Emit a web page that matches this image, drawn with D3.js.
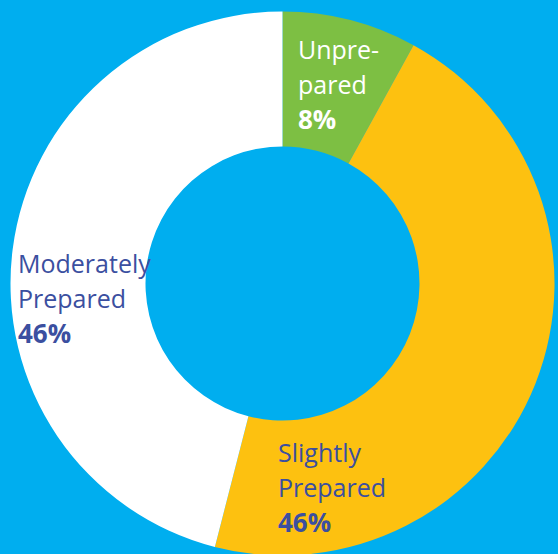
<!DOCTYPE html>
<html><head><meta charset="utf-8">
<script src="https://cdn.jsdelivr.net/npm/d3@7"></script>
<style>
html,body{margin:0;padding:0;background:#00AEEF;}
svg{display:block;}
</style></head>
<body>
<script>
const categories = ["Unprepared", "Slightly Prepared", "Moderately Prepared"];
const labelLines = [["Unpre-", "pared"], ["Slightly", "Prepared"], ["Moderately", "Prepared"]];
const values = [8, 46, 46];
const colors = ["#7DBF43", "#FDC110", "#FFFFFF"];
const labelColors = ["#FFFFFF", "#3B4FA0", "#3B4FA0"];

const W = 558, H = 554;
const cx = 282.5, cy = 283.5, rOuter = 272, rInner = 137;
// label anchors (left x, first baseline y), layout only
const labelPos = [[298, 59], [278, 462], [18, 273]];
const lineH = 35;

const svg = d3.select("body").append("svg").attr("width", W).attr("height", H);
svg.append("rect").attr("width", W).attr("height", H).attr("fill", "#00AEEF");

const pie = d3.pie().sort(null).value(d => d)(values);
const arc = d3.arc().innerRadius(rInner).outerRadius(rOuter);

const g = svg.append("g").attr("transform", `translate(${cx},${cy})`);
g.selectAll("path").data(pie).join("path")
  .attr("d", arc)
  .attr("fill", (d, i) => colors[i]);

const lg = svg.append("g");
pie.forEach((d, i) => {
  const t = lg.append("text")
    .attr("x", labelPos[i][0]).attr("y", labelPos[i][1])
    .attr("fill", labelColors[i])
    .style("font-family", "'Open Sans', sans-serif")
    .style("font-size", "25px");
  labelLines[i].forEach((ln, k) => {
    t.append("tspan").attr("x", labelPos[i][0]).attr("y", labelPos[i][1] + k * lineH).text(ln);
  });
  t.append("tspan").attr("x", labelPos[i][0]).attr("y", labelPos[i][1] + labelLines[i].length * lineH)
    .style("font-weight", "700").style("font-size", "26px").text(values[i] + "%");
});
</script>
</body></html>
